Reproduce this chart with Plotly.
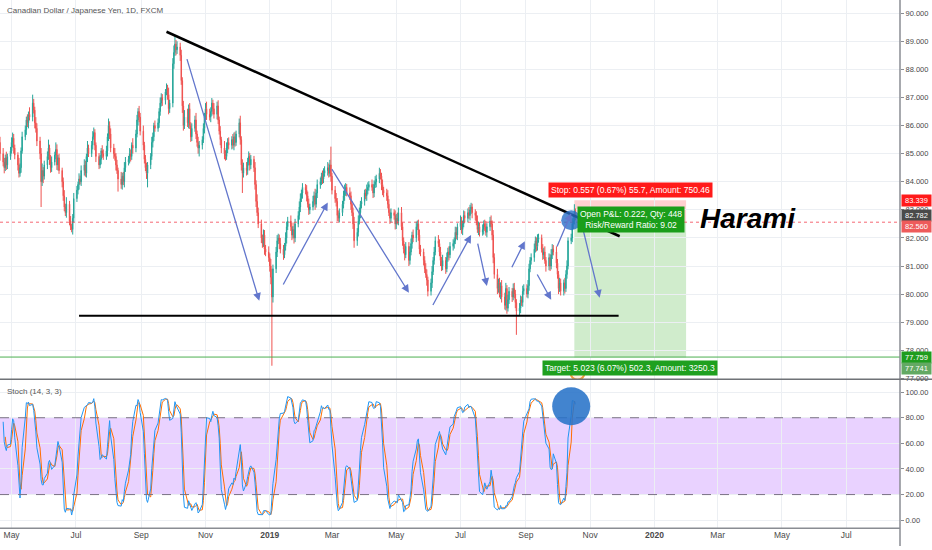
import pandas as pd
import plotly.graph_objects as go

# Daily closes, CAD/JPY (one row = one trading week, Mon..Fri)
close = [
    83.20, 83.55, 83.90, 84.05, 83.70,
    83.95, 84.20, 84.50, 84.70, 84.95,
    85.10, 85.30, 85.15, 85.40, 85.00,
    84.70, 84.50, 84.85, 84.60, 84.90,
    85.10, 85.40, 85.55, 85.20, 84.95,
    84.60, 84.30, 84.50, 85.10, 85.60,
    85.85, 86.20, 86.10, 86.40, 86.30,
    86.80, 86.55, 86.10, 85.90, 85.45,
    85.00, 84.00, 84.40, 84.20, 84.60,
    84.90, 85.20, 84.80, 84.50, 84.70,
    84.95, 85.15, 84.60, 84.85, 84.40,
    84.00, 83.50, 83.10, 82.90, 83.20,
    82.60, 82.40, 82.30, 82.70, 83.40,
    83.70, 83.90, 84.10, 84.00, 84.40,
    84.60, 84.30, 84.90, 85.20, 85.00,
    85.30, 85.60, 85.75, 85.30, 84.90,
    84.60, 84.80, 85.10, 85.00, 84.90,
    85.10, 85.60, 86.00, 85.70, 85.20,
    85.00, 84.90, 84.60, 84.40, 84.10,
    83.90, 84.20, 84.00, 84.50, 84.70,
    84.80, 85.00, 84.90, 85.30, 85.20,
    85.70, 86.20, 86.50, 86.30, 85.80,
    85.30, 84.80, 84.50, 84.30, 84.60,
    84.90, 85.40, 85.60, 86.00, 85.90,
    86.10, 86.50, 86.80, 87.00, 86.90,
    87.20, 87.30, 87.10, 86.60, 86.80,
    88.20, 88.60, 88.90, 88.70, 88.80,
    88.50, 87.60, 86.70, 86.00, 86.30,
    86.10, 86.60, 86.00, 85.60, 85.90,
    86.20, 85.70, 85.40, 85.20, 85.30,
    85.50, 85.90, 86.30, 86.60, 86.40,
    86.30, 86.50, 86.80, 86.60, 86.40,
    86.70, 86.20, 85.80, 85.50, 85.20,
    85.00, 84.90, 85.20, 85.40, 85.30,
    85.50, 85.30, 85.60, 85.40, 85.70,
    86.10, 85.50, 84.60, 84.30, 84.50,
    84.40, 84.70, 84.90, 84.60, 84.80,
    84.50, 83.90, 83.30, 82.90, 82.50,
    82.00, 81.80, 82.10, 81.60, 81.50,
    81.30, 81.00, 80.60, 79.90, 80.90,
    81.50, 81.90, 82.00, 81.80, 81.60,
    81.40, 81.70, 82.00, 82.40, 82.60,
    82.40, 82.10, 82.30, 82.00, 82.50,
    82.80, 83.10, 83.40, 83.60, 83.80,
    83.70, 83.50, 83.20, 83.00, 83.10,
    83.30, 83.50, 83.20, 83.60, 83.90,
    84.00, 84.20, 84.10, 84.30, 84.40,
    84.50, 84.30, 84.60, 84.20, 83.70,
    83.40, 83.30, 82.80, 82.70, 82.90,
    83.20, 83.50, 83.70, 83.80, 83.60,
    83.50, 83.20, 82.90, 82.50, 81.90,
    82.20, 82.60, 82.90, 83.20, 83.30,
    83.60, 83.50, 83.70, 83.80, 83.90,
    83.80, 83.60, 83.90, 84.00, 84.10,
    84.30, 84.20, 83.90, 83.70, 83.60,
    83.50, 83.20, 82.90, 82.70, 82.90,
    82.80, 82.50, 82.70, 82.60, 82.90,
    82.40, 81.90, 81.60, 81.40, 81.70,
    81.20, 81.50, 81.80, 82.10, 82.00,
    82.40, 82.50, 82.10, 81.60, 81.50,
    81.20, 80.90, 80.70, 80.50, 80.10,
    80.40, 80.80, 81.20, 81.50, 81.90,
    81.80, 81.50, 81.20, 81.00, 81.20,
    80.90, 81.30, 81.50, 81.40, 81.70,
    81.80, 81.90, 82.20, 82.10, 82.40,
    82.60, 82.30, 82.50, 82.80, 82.70,
    82.90, 82.80, 83.00, 83.10, 82.90,
    82.80, 82.60, 82.30, 82.40, 82.20,
    82.30, 82.50, 82.40, 82.20, 82.40,
    82.60, 82.50, 82.10, 81.30, 80.70,
    80.20, 80.40, 80.00, 80.30, 79.90,
    79.60, 80.20, 79.50, 79.80, 80.10,
    79.90, 80.20, 80.00, 79.70, 79.40,
    79.50, 79.80, 79.70, 80.10, 80.20,
    80.00, 80.30, 80.90, 81.20, 81.30,
    81.60, 81.90, 81.70, 81.95, 82.00,
    81.60, 81.40, 81.50, 81.20, 81.00,
    81.30, 81.00, 81.40, 81.60, 81.50,
    81.10, 80.70, 80.20, 80.40, 80.10,
    80.40, 80.20, 80.70, 81.00, 81.90,
    82.00, 82.50, 82.60, 82.90, 82.78,
]

# Upper / lower wick length of each candle, in hundredths of a yen
up_wick = [
    15, 20, 12, 18, 10,  12, 15, 20, 10, 14,  18, 12, 25, 15, 20,
    20, 15, 12, 22, 10,  14, 18, 20, 15, 12,  10, 25, 15, 12, 18,
    15, 12, 20, 10, 25,  30, 15, 12, 20, 18,  15, 20, 25, 12, 15,
    18, 30, 12, 15, 20,  12, 25, 18, 10, 15,  10, 15, 20, 12, 25,
    12, 18, 10, 15, 20,  15, 10, 20, 12, 18,  20, 15, 10, 25, 12,
    15, 20, 18, 12, 10,  12, 15, 10, 20, 15,  18, 12, 25, 15, 20,
    15, 20, 12, 18, 10,  25, 12, 15, 20, 18,  12, 20, 15, 10, 25,
    15, 18, 12, 20, 15,  20, 12, 15, 18, 10,  12, 20, 15, 10, 18,
    15, 12, 20, 15, 12,  10, 20, 15, 25, 12,  20, 25, 30, 15, 20,
    15, 20, 12, 18, 25,  30, 15, 20, 12, 18,  15, 25, 12, 20, 15,
    12, 18, 15, 20, 25,  20, 15, 18, 12, 20,  15, 20, 12, 18, 10,
    25, 12, 20, 15, 18,  12, 20, 15, 18, 12,  15, 25, 12, 20, 18,
    20, 15, 18, 12, 15,  12, 20, 15, 25, 18,  15, 12, 20, 18, 15,
    20, 15, 25, 30, 15,  18, 20, 15, 12, 20,  15, 12, 20, 18, 15,
    20, 15, 12, 25, 18,  15, 20, 18, 12, 15,  12, 18, 15, 20, 12,
    20, 15, 25, 12, 18,  15, 12, 20, 18, 15,  20, 15, 18, 65, 12,
    15, 20, 12, 18, 15,  12, 18, 20, 15, 12,  20, 15, 12, 18, 25,
    15, 20, 18, 12, 15,  12, 15, 20, 18, 12,  18, 12, 15, 20, 15,
    20, 15, 12, 18, 12,  15, 20, 18, 12, 15,  12, 18, 15, 20, 18,
    20, 15, 12, 18, 15,  15, 20, 18, 12, 20,  18, 12, 15, 20, 15,
    12, 15, 20, 18, 12,  15, 20, 12, 18, 15,  20, 15, 18, 12, 20,
    12, 18, 15, 20, 15,  15, 12, 20, 18, 12,  20, 15, 12, 18, 15,
    15, 20, 18, 15, 12,  12, 15, 20, 18, 15,  18, 12, 15, 20, 12,
    15, 20, 12, 18, 15,  20, 15, 18, 12, 20,  15, 20, 12, 18, 15,
    12, 18, 20, 15, 12,  18, 15, 12, 20, 15,  15, 20, 18, 12, 15,
    20, 15, 12, 18, 15,  12, 18, 15, 20, 12,  15, 12, 20, 18, 15,
    20, 15, 12, 18, 15,  12, 18, 15, 20, 12,  15, 20, 18, 30, 15,
]
down_wick = [
    12, 15, 18, 10, 20,  15, 12, 10, 18, 12,  10, 18, 15, 12, 25,
    15, 20, 12, 18, 15,  12, 10, 18, 20, 15,  20, 15, 12, 18, 10,
    12, 18, 15, 20, 12,  15, 12, 20, 15, 18,  20, 90, 15, 25, 12,
    15, 12, 20, 18, 15,  12, 15, 18, 20, 12,  20, 18, 15, 12, 18,
    15, 12, 10, 18, 15,  12, 15, 18, 10, 15,  18, 12, 15, 20, 12,
    12, 15, 10, 18, 20,  15, 12, 18, 15, 12,  12, 20, 15, 18, 15,
    18, 15, 20, 12, 45,  15, 18, 12, 20, 15,  12, 15, 18, 12, 20,
    15, 12, 20, 18, 15,  18, 15, 12, 20, 50,  15, 12, 18, 15, 12,
    12, 18, 15, 12, 20,  15, 12, 18, 20, 15,  15, 18, 12, 20, 15,
    20, 15, 25, 18, 12,  15, 20, 12, 18, 15,  12, 18, 15, 20, 30,
    15, 12, 18, 15, 20,  12, 18, 15, 20, 15,  18, 15, 12, 20, 18,
    20, 15, 12, 18, 15,  15, 12, 18, 15, 12,  12, 18, 20, 70, 15,
    18, 15, 12, 20, 15,  15, 18, 20, 12, 15,  18, 15, 12, 20, 15,
    15, 20, 25, 245, 20, 15, 18, 12, 20, 15,  18, 12, 15, 20, 12,
    15, 18, 12, 20, 15,  12, 15, 18, 12, 20,  15, 20, 12, 18, 15,
    12, 15, 20, 12, 18,  15, 12, 18, 15, 12,  18, 15, 12, 20, 15,
    15, 18, 20, 12, 15,  12, 15, 18, 20, 12,  15, 20, 12, 18, 25,
    18, 15, 12, 20, 15,  15, 12, 18, 15, 12,  12, 18, 15, 12, 20,
    15, 12, 20, 18, 15,  18, 15, 12, 20, 15,  15, 20, 18, 12, 15,
    12, 18, 15, 20, 12,  20, 15, 12, 18, 15,  15, 12, 20, 18, 15,
    18, 15, 12, 20, 18,  15, 18, 12, 15, 12,  12, 15, 20, 18, 15,
    18, 12, 15, 20, 12,  15, 18, 12, 15, 18,  12, 15, 20, 12, 15,
    15, 12, 18, 15, 20,  18, 15, 12, 20, 15,  12, 18, 15, 12, 18,
    15, 12, 18, 20, 15,  20, 15, 12, 18, 20,  15, 18, 20, 12, 15,
    18, 12, 15, 20, 85,  15, 18, 12, 15, 12,  12, 15, 18, 12, 15,
    15, 12, 18, 15, 12,  12, 18, 15, 12, 20,  15, 18, 12, 15, 12,
    18, 15, 20, 12, 15,  15, 18, 12, 15, 12,  12, 15, 18, 12, 15,
]

first_open = 83.00
month_ticks = ["2018-05-01", "2018-07-01", "2018-09-01", "2018-11-01", "2019-01-01",
               "2019-03-01", "2019-05-01", "2019-07-01", "2019-09-01", "2019-11-01",
               "2020-01-01", "2020-03-01", "2020-05-01", "2020-07-01"]
month_text = ["May", "Jul", "Sep", "Nov", "<b>2019</b>", "Mar", "May", "Jul", "Sep", "Nov",
              "<b>2020</b>", "Mar", "May", "Jul"]
price_ticks = list(range(77, 91))
stoch_ticks = [0, 20, 40, 60, 80, 100]

# hand drawn objects on the chart
trend_line = (["2018-09-25", "2019-11-29"], [89.34, 82.06])
support_line = (["2018-07-04", "2019-11-28"], [79.23, 79.23])
arrows = [  # tail date, tail price, head date, head price
    ("2018-10-14", 88.42, "2018-12-22", 79.76),
    ("2019-01-13", 80.29, "2019-02-25", 83.26),
    ("2019-02-28", 84.50, "2019-05-13", 80.05),
    ("2019-06-04", 79.56, "2019-07-11", 82.10),
    ("2019-07-17", 81.85, "2019-07-26", 80.29),
    ("2019-08-18", 80.90, "2019-08-31", 81.88),
    ("2019-09-11", 80.75, "2019-09-25", 79.80),
    ("2019-09-30", 81.64, "2019-10-14", 82.88),
    ("2019-10-25", 82.34, "2019-11-10", 79.87),
]
pos_start, pos_end = "2019-10-17", "2020-01-31"
entry, stop, target, last_price = 82.560, 83.339, 77.741, 82.782
target_line = 77.759
harami_at = ("2020-02-11", 82.69)
price_circle = ("2019-10-14", 82.63)
stoch_circle = ("2019-10-14", 89.0)
ring_at = ("2019-10-20", 77.2)
price_tags = [(83.339, "#ff1a1a", 0), (82.782, "#4a4a4a", 0), (82.560, "#ee5b5b", -4),
              (77.759, "#1f9d1f", 0), (77.741, "#63a963", -11)]

# ---- build OHLC and the stochastic (14, 3, 3)
dates = pd.bdate_range("2018-04-02", periods=len(close))
opens = [first_open] + close[:-1]
high = [max(o, c) + u / 100 for o, c, u in zip(opens, close, up_wick)]
low = [min(o, c) - d / 100 for o, c, d in zip(opens, close, down_wick)]

c_s, h_s, l_s = pd.Series(close), pd.Series(high), pd.Series(low)
ll = l_s.rolling(14).min()
hh = h_s.rolling(14).max()
k_raw = 100 * (c_s - ll) / (hh - ll)
k_line = k_raw.rolling(3).mean()
d_line = k_line.rolling(3).mean()

XR = 900 / 932
GRID = "#eceff3"
FONT = "Liberation Sans"

fig = go.Figure()
fig.add_trace(go.Candlestick(
    x=dates, open=opens, high=high, low=low, close=close,
    increasing=dict(line=dict(color="#26a69a", width=1), fillcolor="#26a69a"),
    decreasing=dict(line=dict(color="#ef5350", width=1), fillcolor="#ef5350"),
    whiskerwidth=0, showlegend=False, xaxis="x", yaxis="y"))
fig.add_trace(go.Scatter(x=dates, y=d_line, mode="lines", line=dict(color="#ff6d00", width=1),
                         showlegend=False, xaxis="x2", yaxis="y2"))
fig.add_trace(go.Scatter(x=dates, y=k_line, mode="lines", line=dict(color="#2196f3", width=1),
                         showlegend=False, xaxis="x2", yaxis="y2"))

shapes = [
    # stochastic band and levels
    dict(type="rect", xref="paper", yref="y2", x0=0, x1=XR, y0=20, y1=80,
         fillcolor="rgba(175,95,255,0.28)", line_width=0, layer="below"),
    dict(type="line", xref="paper", yref="y2", x0=0, x1=XR, y0=80, y1=80,
         line=dict(color="#7a7285", width=1, dash="dash")),
    dict(type="line", xref="paper", yref="y2", x0=0, x1=XR, y0=20, y1=20,
         line=dict(color="#7a7285", width=1, dash="dash")),
    # position tool
    dict(type="rect", xref="x", yref="y", x0=pos_start, x1=pos_end, y0=entry, y1=stop,
         fillcolor="rgba(255,120,120,0.35)", line_width=0, layer="below"),
    dict(type="rect", xref="x", yref="y", x0=pos_start, x1=pos_end, y0=target, y1=entry,
         fillcolor="rgba(120,200,110,0.35)", line_width=0, layer="below"),
    # entry and target price lines
    dict(type="line", xref="paper", yref="y", x0=0, x1=XR, y0=entry, y1=entry,
         line=dict(color="rgba(242,54,69,0.75)", width=1, dash="dot")),
    dict(type="line", xref="paper", yref="y", x0=0, x1=XR, y0=target_line, y1=target_line,
         line=dict(color="#4caf50", width=1)),
    # trend lines
    dict(type="line", xref="x", yref="y", x0=trend_line[0][0], x1=trend_line[0][1],
         y0=trend_line[1][0], y1=trend_line[1][1], line=dict(color="black", width=2.5)),
    dict(type="line", xref="x", yref="y", x0=support_line[0][0], x1=support_line[0][1],
         y0=support_line[1][0], y1=support_line[1][1], line=dict(color="black", width=2.2)),
    # circles
    dict(type="circle", xref="x", yref="y", xsizemode="pixel", ysizemode="pixel",
         xanchor=price_circle[0], yanchor=price_circle[1], x0=-10, x1=10, y0=-10, y1=10,
         fillcolor="rgba(40,110,200,0.8)", line_width=0),
    dict(type="circle", xref="x2", yref="y2", xsizemode="pixel", ysizemode="pixel",
         xanchor=stoch_circle[0], yanchor=stoch_circle[1], x0=-19, x1=19, y0=-19, y1=19,
         fillcolor="rgba(40,115,200,0.88)", line_width=0),
    dict(type="circle", xref="x", yref="y", xsizemode="pixel", ysizemode="pixel",
         xanchor=ring_at[0], yanchor=ring_at[1], x0=-7, x1=7, y0=-7, y1=7,
         fillcolor="rgba(255,220,190,0.5)", line=dict(color="#f39a3c", width=2)),
    # frame lines
    dict(type="line", xref="paper", yref="paper", x0=XR, x1=XR, y0=0, y1=1,
         line=dict(color="#8a8d93", width=1.5)),
    dict(type="line", xref="paper", yref="paper", x0=0, x1=1, y0=1 - 382 / 550, y1=1 - 382 / 550,
         line=dict(color="#6f7277", width=1.5)),
    dict(type="line", xref="paper", yref="paper", x0=0, x1=XR, y0=1 - 532 / 550, y1=1 - 532 / 550,
         line=dict(color="#8a8d93", width=1.5)),
]

annotations = [
    dict(text="Canadian Dollar / Japanese Yen, 1D, FXCM", xref="paper", yref="paper",
         x=5 / 932, y=1 - 11 / 550, xanchor="left", yanchor="middle", showarrow=False,
         font=dict(family=FONT, size=8, color="#555")),
    dict(text="Stoch (14, 3, 3)", xref="paper", yref="paper",
         x=5 / 932, y=1 - 394 / 550, xanchor="left", yanchor="middle", showarrow=False,
         font=dict(family=FONT, size=8, color="#555")),
    dict(text="<b><i>Harami</i></b>", xref="x", yref="y", x=harami_at[0], y=harami_at[1],
         xanchor="left", yanchor="middle", showarrow=False,
         font=dict(family=FONT, size=28, color="black")),
]
for t_date, t_price, h_date, h_price in arrows:
    annotations.append(dict(x=h_date, y=h_price, ax=t_date, ay=t_price, xref="x", yref="y",
                            axref="x", ayref="y", text="", showarrow=True, arrowhead=2,
                            arrowsize=1.2, arrowwidth=1.3, arrowcolor="#6276cc"))

mid = pd.Timestamp(pos_start) + (pd.Timestamp(pos_end) - pd.Timestamp(pos_start)) / 2
annotations += [
    dict(text="Stop: 0.557 (0.67%) 55.7, Amount: 750.46", xref="x", yref="y", x=mid, y=stop,
         xanchor="center", yanchor="bottom", yshift=2, showarrow=False, bgcolor="#ff1a1a",
         borderpad=2, font=dict(family=FONT, size=8.5, color="white")),
    dict(text="Open P&L: 0.222, Qty: 448<br>Risk/Reward Ratio: 9.02", xref="x", yref="y",
         x=pos_start, y=82.66, xanchor="left", yanchor="middle", xshift=3, showarrow=False,
         bgcolor="#1a9e1a", borderpad=2, align="center",
         font=dict(family=FONT, size=8.5, color="white")),
    dict(text="Target: 5.023 (6.07%) 502.3, Amount: 3250.3", xref="x", yref="y", x=mid, y=target,
         xanchor="center", yanchor="top", yshift=-2, showarrow=False, bgcolor="#1fa01f",
         borderpad=2, font=dict(family=FONT, size=8.5, color="white")),
]
for p, col, shift in price_tags:
    annotations.append(dict(text=f"{p:.3f}", xref="paper", yref="y", x=XR, y=p, xanchor="left",
                            yanchor="middle", yshift=shift, xshift=1, showarrow=False,
                            bgcolor=col, borderpad=1, width=27,
                            font=dict(family=FONT, size=7.5, color="white")))

fig.update_layout(
    width=932, height=550, margin=dict(l=0, r=0, t=0, b=0),
    paper_bgcolor="white", plot_bgcolor="white", showlegend=False,
    xaxis=dict(domain=[0, XR], anchor="y", range=["2018-04-20", "2020-08-21"],
               tickvals=month_ticks, showticklabels=False, showgrid=True, gridcolor=GRID,
               zeroline=False, rangeslider=dict(visible=False), fixedrange=True),
    xaxis2=dict(domain=[0, XR], anchor="y2", matches="x", range=["2018-04-20", "2020-08-21"],
                tickvals=month_ticks, ticktext=month_text, showgrid=True, gridcolor=GRID,
                ticks="", tickfont=dict(family=FONT, size=8.5, color="#4a4a4a"), zeroline=False),
    yaxis=dict(domain=[1 - 382 / 550, 1], anchor="x", side="right", range=[76.97, 90.47],
               tickvals=price_ticks, tickformat=".3f", ticks="outside", ticklen=3,
               tickcolor="#8a8d93", showgrid=True, gridcolor=GRID, zeroline=False,
               tickfont=dict(family=FONT, size=7.5, color="#4a4a4a")),
    yaxis2=dict(domain=[1 - 532 / 550, 1 - 383 / 550], anchor="x2", side="right",
                range=[-6.2, 109.3], tickvals=stoch_ticks, tickformat=".2f", ticks="outside",
                ticklen=3, tickcolor="#8a8d93", showgrid=True, gridcolor=GRID, zeroline=False,
                tickfont=dict(family=FONT, size=7.5, color="#4a4a4a")),
    shapes=shapes, annotations=annotations,
)

# the page body has a default 8px margin; drop it so the chart sits at the window corner
fig.write_html("out.html", config={"displayModeBar": False},
               post_script="document.body.style.margin='0px';")
